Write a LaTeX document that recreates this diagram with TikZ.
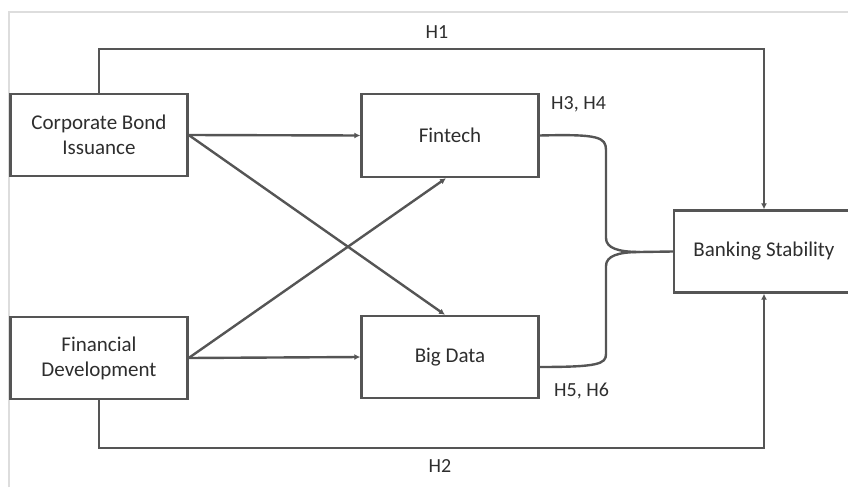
\documentclass[tikz,border=0pt]{standalone}
\usepackage{fontspec}
\setmainfont{Carlito}
\usetikzlibrary{arrows.meta,calc}
\definecolor{linegray}{HTML}{555555}
\definecolor{textgray}{HTML}{2E2E2E}
\definecolor{framegray}{HTML}{DDDDDD}
\begin{document}
\begin{tikzpicture}[x=1pt,y=-1pt,
  box/.style={draw=linegray, line width=2.4pt, fill=white, minimum width=177pt, minimum height=82pt,
    align=center, text=textgray, font=\fontsize{21}{25}\selectfont, inner sep=2pt},
  lab/.style={text=textgray, font=\fontsize{20}{24}\selectfont, inner sep=0pt},
  conn/.style={draw=linegray, line width=2.4pt},
  arr/.style={conn, -{Latex[length=6pt,width=6pt]}}]
\useasboundingbox (0,0) rectangle (848,487);
\clip (0,0) rectangle (848,487);
\draw[framegray, line width=1.5pt] (9,487) -- (9,12) -- (848,12);

\node[box] (cbi) at (99,135) {Corporate Bond\\Issuance};
\node[box] (fd) at (99,358) {Financial\\Development};
\node[box, minimum height=83pt] (ft) at (450,135.5) {Fintech};
\node[box] (bd) at (450,357) {Big Data};
\node[box, minimum width=180pt] (bs) at (764,251.5) {Banking Stability};

\draw[arr] (cbi.north) -- (cbi.north |- 0,49) -| (bs.north);
\draw[arr] (fd.south) -- (fd.south |- 0,448) -| (bs.south);

\draw[arr] (cbi.east) -- (ft.west);
\draw[arr] (cbi.east) -- ([xshift=-5pt]bd.north);
\draw[arr] (fd.east) -- ([xshift=-4pt]ft.south);
\draw[arr] (fd.east) -- (bd.west);

\coordinate (tip) at (640,252);
\draw[conn] (ft.east) .. controls (598,134) and (606,137) .. (606,150) -- (606,238)
  .. controls (606,248) and (618,252) .. (tip);
\draw[conn] ([yshift=-10pt]bd.east) .. controls (598,367) and (606,364) .. (606,354) -- (606,266)
  .. controls (606,256) and (618,252) .. (tip);
\draw[conn] (tip) -- (bs.west);

\node[lab] (h1) at (437,32) {H1};
\node[lab] (h2) at (440,466) {H2};
\node[lab, anchor=west] (h34) at (551,104) {H3, H4};
\node[lab, anchor=west] (h56) at (554,391) {H5, H6};
\end{tikzpicture}
\end{document}
